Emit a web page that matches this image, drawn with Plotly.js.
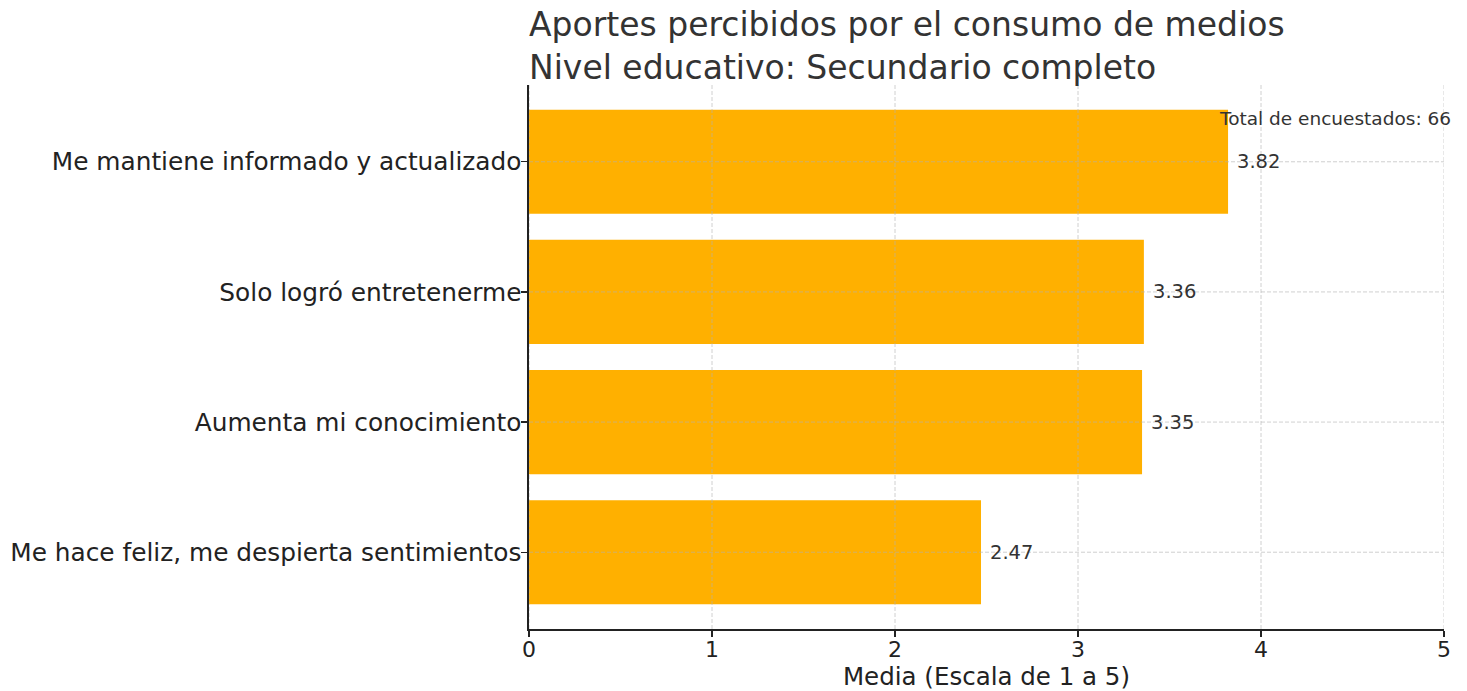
<!DOCTYPE html>
<html>
<head>
<meta charset="utf-8">
<script src="https://cdn.plot.ly/plotly-3.0.1.min.js"></script>
<style>html,body{margin:0;padding:0;background:#fff;}#chart{width:1467px;height:691px;}</style>
</head>
<body>
<div id="chart"></div>
<script>
const categories = [
  "Me mantiene informado y actualizado",
  "Solo logró entretenerme",
  "Aumenta mi conocimiento",
  "Me hace feliz, me despierta sentimientos"
];
const means = [3.82, 3.36, 3.35, 2.47];
const xTicks = [0, 1, 2, 3, 4, 5];
const totalRespondents = 66;

const FONT = "DejaVu Sans, sans-serif";
const gridColor = "rgba(176,176,176,0.6)";

const trace = {
  type: "bar",
  orientation: "h",
  y: categories,
  x: means,
  width: 0.8,
  marker: {color: "#FFB000", line: {width: 0}},
  hoverinfo: "skip"
};

const annotations = means.map((v, i) => ({
  x: v, y: categories[i], xref: "x", yref: "y",
  text: v.toFixed(2), showarrow: false,
  xanchor: "left", yanchor: "middle", xshift: 7,
  font: {family: FONT, size: 19.5, color: "#333333"}
}));
annotations.push({
  x: 1.0098, y: 0.939, xref: "paper", yref: "paper",
  text: "Total de encuestados: " + totalRespondents, showarrow: false,
  xanchor: "right", yanchor: "middle",
  font: {family: FONT, size: 18.5, color: "#333333"}
});

const shapes = [];
xTicks.forEach(t => shapes.push({
  type: "line", layer: "above", xref: "x", yref: "paper",
  x0: t, x1: t, y0: 0, y1: 1,
  line: {color: gridColor, width: 1, dash: "4px,2px"}
}));
categories.forEach(c => shapes.push({
  type: "line", layer: "above", xref: "paper", yref: "y",
  x0: 0, x1: 1, y0: c, y1: c,
  line: {color: gridColor, width: 1, dash: "4px,2px"}
}));

const layout = {
  width: 1467, height: 691,
  margin: {l: 529, r: 23, t: 85, b: 62, pad: 0},
  paper_bgcolor: "#ffffff", plot_bgcolor: "#ffffff",
  font: {family: FONT, color: "#222222"},
  showlegend: false,
  bargap: 0.2,
  title: {
    text: "Aportes percibidos por el consumo de medios<br>Nivel educativo: Secundario completo",
    x: 0, xref: "paper", xanchor: "left",
    y: 1 - 36/691, yref: "container", yanchor: "middle",
    font: {family: FONT, size: 33, color: "#333333"}
  },
  xaxis: {
    range: [0, 5], tickvals: xTicks, ticktext: xTicks.map(String),
    showgrid: false, zeroline: false,
    showline: true, linecolor: "#222222", linewidth: 1.6,
    ticks: "outside", ticklen: 6, tickwidth: 1.3, tickcolor: "#222222",
    tickfont: {family: FONT, size: 22, color: "#222222"},
    ticklabelstandoff: -6,
    title: {text: "Media (Escala de 1 a 5)", standoff: 8, font: {family: FONT, size: 24.5, color: "#222222"}},
    fixedrange: true
  },
  yaxis: {
    type: "category",
    range: [3.59, -0.59],
    showgrid: false, zeroline: false,
    showline: true, linecolor: "#222222", linewidth: 1.6,
    ticks: "outside", ticklen: 6, tickwidth: 1.3, tickcolor: "#222222",
    tickfont: {family: FONT, size: 24.8, color: "#222222"},
    ticklabelstandoff: -5,
    fixedrange: true
  },
  annotations: annotations,
  shapes: shapes
};

Plotly.newPlot("chart", [trace], layout, {displayModeBar: false, staticPlot: true});
</script>
</body>
</html>
